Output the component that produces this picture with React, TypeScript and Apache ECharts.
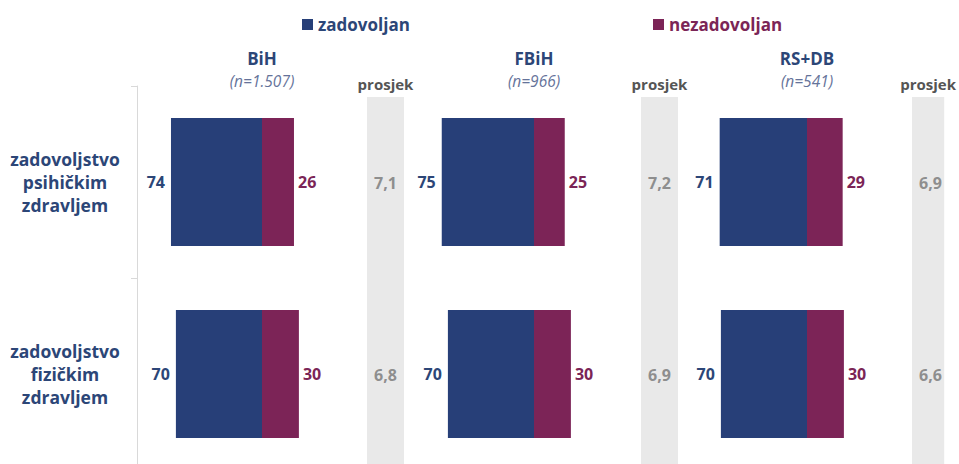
import React, { useEffect, useRef } from "react";
import * as echarts from "echarts";

const regions = ["BiH", "FBiH", "RS+DB"];
const sampleSizes = ["(n=1.507)", "(n=966)", "(n=541)"];
const rowLabels = [
  "zadovoljstvo\npsihičkim\nzdravljem",
  "zadovoljstvo\nfizičkim\nzdravljem",
];
const satisfied = [
  [74, 70],
  [75, 70],
  [71, 70],
];
const dissatisfied = [
  [26, 30],
  [25, 30],
  [29, 30],
];
const averages = [
  [7.1, 6.8],
  [7.2, 6.9],
  [6.9, 6.6],
];
const avgLabel = "prosjek";
const seriesNames = ["zadovoljan", "nezadovoljan"];

const BLUE = "#273f78";
const PURPLE = "#7c2457";
const BLUE_TXT = "#2c4677";
const PURPLE_TXT = "#7b2556";
const FONT = "'Open Sans', sans-serif";

export default function App() {
  const ref = useRef<HTMLDivElement>(null);
  useEffect(() => {
    document.body.style.margin = "0";
    document.body.style.overflow = "hidden";
    const chart = echarts.init(ref.current!, null, { renderer: "svg" });
    const mainLeft = [139, 411, 684];
    const greyLeft = [367, 641, 912];
    const grids: any[] = [];
    const xAxes: any[] = [];
    const yAxes: any[] = [];
    const series: any[] = [];
    regions.forEach((r, i) => {
      grids.push({ left: mainLeft[i], width: 246, top: 86, height: 384 });
      xAxes.push({
        type: "value",
        gridIndex: i,
        min: -100,
        max: 100,
        position: "top",
        axisLine: { show: false },
        axisTick: { show: false },
        axisLabel: { show: false },
        splitLine: { show: false },
        name: `{a|${r}}\n{b|${sampleSizes[i]}}`,
        nameLocation: "middle",
        nameGap: 17,
        nameTextStyle: {
          verticalAlign: "middle",
          rich: {
            a: { fontFamily: FONT, fontWeight: "bold", fontSize: 17, color: BLUE_TXT, lineHeight: 24 },
            b: { fontFamily: FONT, fontStyle: "italic", fontSize: 15.5, color: "#65739a", lineHeight: 22 },
          },
        },
      });
      yAxes.push({
        type: "category",
        gridIndex: i,
        inverse: true,
        position: "left",
        data: rowLabels,
        offset: i === 0 ? 2 : 0,
        axisLine: { show: i === 0, onZero: false, lineStyle: { color: "#d9d9d9", width: 1 } },
        axisTick: { show: i === 0, length: 6, lineStyle: { color: "#d9d9d9" } },
        axisLabel: {
          show: i === 0,
          align: "center",
          margin: 72,
          fontFamily: FONT,
          fontWeight: "bold",
          fontSize: 17.5,
          lineHeight: 23,
          color: BLUE_TXT,
        },
      });
      series.push({
        name: seriesNames[0],
        type: "bar",
        xAxisIndex: i,
        yAxisIndex: i,
        stack: "s" + i,
        barWidth: 128,
        data: satisfied[i].map((v) => -v),
        itemStyle: { color: BLUE },
        label: {
          show: true,
          position: "left",
          distance: 6,
          formatter: (p: any) => String(Math.abs(p.value)),
          fontFamily: FONT,
          fontWeight: "bold",
          fontSize: 16,
          color: BLUE_TXT,
        },
      });
      series.push({
        name: seriesNames[1],
        type: "bar",
        xAxisIndex: i,
        yAxisIndex: i,
        stack: "s" + i,
        barWidth: 128,
        data: dissatisfied[i],
        itemStyle: { color: PURPLE },
        label: {
          show: true,
          position: "right",
          distance: 4,
          fontFamily: FONT,
          fontWeight: "bold",
          fontSize: 16,
          color: PURPLE_TXT,
        },
      });
    });
    regions.forEach((r, i) => {
      const gi = 3 + i;
      grids.push({ left: greyLeft[i], width: 37, top: 97, height: 384 });
      xAxes.push({
        type: "value",
        gridIndex: gi,
        min: 0,
        max: 10,
        position: "top",
        axisLine: { show: false },
        axisTick: { show: false },
        axisLabel: { show: false },
        splitLine: { show: false },
        name: avgLabel,
        nameLocation: "middle",
        nameGap: 13,
        nameTextStyle: {
          verticalAlign: "middle",
          fontFamily: FONT,
          fontWeight: "bold",
          fontSize: 15,
          color: "#555555",
        },
      });
      yAxes.push({
        type: "category",
        gridIndex: gi,
        inverse: true,
        data: rowLabels,
        show: false,
      });
      series.push({
        type: "bar",
        xAxisIndex: gi,
        yAxisIndex: gi,
        barWidth: "100%",
        data: averages[i],
        itemStyle: { color: "rgba(0,0,0,0)" },
        showBackground: true,
        backgroundStyle: { color: "#e9e9e9" },
        label: {
          show: true,
          position: [18.5, 86],
          align: "center",
          verticalAlign: "middle",
          formatter: (p: any) => Number(p.value).toFixed(1).replace(".", ","),
          fontFamily: FONT,
          fontWeight: "bold",
          fontSize: 16,
          color: "#8e8e8e",
        },
      });
    });
    chart.setOption({
      animation: false,
      legend: [
        {
          data: [seriesNames[0]],
          left: 297,
          top: 11,
          icon: "rect",
          itemWidth: 11,
          itemHeight: 11,
          textStyle: { fontFamily: FONT, fontWeight: "bold", fontSize: 17, color: BLUE_TXT },
        },
        {
          data: [seriesNames[1]],
          left: 648,
          top: 11,
          icon: "rect",
          itemWidth: 11,
          itemHeight: 11,
          textStyle: { fontFamily: FONT, fontWeight: "bold", fontSize: 17, color: PURPLE_TXT },
        },
      ],
      grid: grids,
      xAxis: xAxes,
      yAxis: yAxes,
      series,
    });
    return () => chart.dispose();
  }, []);
  return <div ref={ref} style={{ width: 959, height: 490 }} />;
}
